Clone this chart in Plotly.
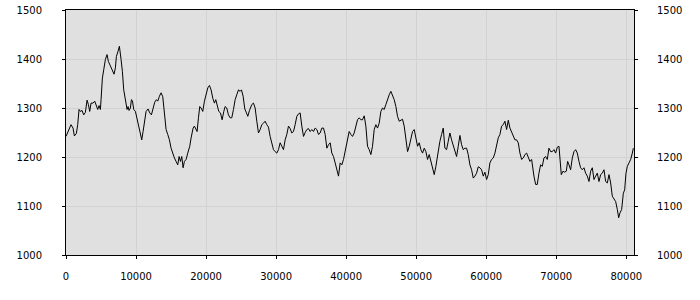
import plotly.graph_objects as go

x_vals = [
    0, 386, 719, 1005, 1195, 1481, 1672, 1862, 2052, 2290, 2529, 2767, 3005, 3195, 3386, 3576,
    3862, 4100, 4338, 4529, 4719, 4910, 5005, 5195, 5386, 5624, 5862, 6052, 6338, 6624, 6862,
    7052, 7195, 7433, 7624, 7862, 8052, 8243, 8481, 8719, 8862, 9005, 9195, 9338, 9481, 9672,
    9910, 10148, 10386, 10624, 10814, 11005, 11195, 11433, 11719, 11957, 12195, 12433, 12672, 12910,
    13100, 13338, 13576, 13814, 14052, 14290, 14529, 14767, 15005, 15243, 15481, 15719, 15957, 16148,
    16338, 16529, 16719, 16910, 17148, 17386, 17671, 17862, 18148, 18338, 18529, 18719, 18910, 19100,
    19290, 19529, 19767, 20005, 20243, 20481, 20719, 20957, 21195, 21386, 21576, 21814, 22052, 22290,
    22529, 22719, 22957, 23195, 23433, 23671, 23910, 24148, 24386, 24624, 24862, 25052, 25290, 25529,
    25767, 25957, 26195, 26433,
    26529, 26767, 27005, 27243, 27481, 27719, 27957, 28195, 28433, 28671, 28910, 29148, 29386, 29624,
    29862, 30100, 30338, 30576, 30814, 31052, 31290, 31529, 31767, 32005, 32243, 32481, 32719, 32957,
    33195, 33433, 33671, 33910, 34148, 34386, 34624, 34862, 35100, 35338, 35576, 35814, 36052, 36290,
    36529, 36767, 37005, 37243, 37481, 37719, 37957, 38195, 38433, 38671, 38910, 39148, 39386, 39624,
    39862,
    39957, 40195, 40433, 40671, 40910, 41148, 41386, 41624, 41862, 42100, 42338, 42576, 42814, 43052,
    43290, 43529, 43767, 44005, 44243, 44481, 44719, 44957, 45195, 45433, 45671, 45910, 46148, 46386,
    46624, 46862, 47100, 47338, 47576, 47814, 48052, 48290, 48529, 48767, 49005, 49243, 49481, 49719,
    49957, 50195, 50433, 50671, 50910, 51148, 51386, 51624, 51862, 52100, 52338, 52576, 52814, 53052,
    53290,
    53386, 53624, 53862, 54100, 54338, 54576, 54814, 55052, 55290, 55529, 55767, 56005, 56243, 56481,
    56719, 56957, 57195, 57433, 57671, 57910, 58148, 58386, 58624, 58862, 59100, 59338, 59576, 59814,
    60052, 60290, 60529, 60767, 61005, 61243, 61481, 61719, 61957, 62195, 62433, 62671, 62910, 63148,
    63386, 63624, 63862, 64100, 64338, 64576, 64814, 65052, 65290, 65529, 65767, 66005, 66243, 66481,
    66719,
    66814, 67052, 67290, 67529, 67767, 68005, 68243, 68481, 68719, 68957, 69195, 69433, 69671, 69910,
    70148, 70386, 70529, 70719, 70957, 71195, 71433, 71624, 71814, 72052, 72290, 72529, 72767, 73005,
    73243, 73481, 73719, 73957, 74195, 74433, 74671, 74910, 75148, 75386, 75624, 75862, 76100, 76338,
    76576, 76814, 77052, 77290, 77529, 77767, 78005, 78243, 78481, 78719, 78910, 79100, 79338, 79576,
    79767, 79957, 80148, 80386, 80624, 80862, 81005,
]

y_vals = [
    1242, 1256, 1266, 1259, 1243, 1248, 1266, 1297, 1293, 1295, 1286, 1291, 1316, 1307, 1293, 1310,
    1310, 1314, 1303, 1297, 1305, 1297, 1317, 1361, 1378, 1399, 1409, 1395, 1386, 1378, 1369,
    1382, 1405, 1416, 1426, 1399, 1375, 1337, 1314, 1297, 1303, 1295, 1300, 1317, 1315, 1297,
    1293, 1276, 1266, 1242, 1235, 1252, 1273, 1293, 1298, 1290, 1286, 1297, 1312, 1317,
    1314, 1324, 1331, 1323, 1283, 1256, 1246, 1235, 1218, 1205, 1198, 1191, 1184, 1201,
    1191, 1201, 1178, 1191, 1195, 1208, 1222, 1239, 1259, 1263, 1256, 1252, 1280, 1303,
    1300, 1293, 1314, 1327, 1341, 1346, 1337, 1320, 1310, 1317, 1307, 1293, 1290, 1276,
    1293, 1303, 1300, 1286, 1280, 1280, 1297, 1317, 1327, 1337, 1334, 1337, 1324, 1298,
    1290, 1283, 1295, 1303,
    1307, 1310, 1300, 1273, 1249, 1256, 1266, 1269, 1273, 1266, 1261, 1242, 1225, 1215,
    1211, 1208, 1215, 1229, 1222, 1215, 1235, 1246, 1263, 1258, 1249, 1252, 1266, 1283,
    1288, 1290, 1263, 1242, 1250, 1256, 1258, 1252, 1256, 1252, 1259, 1256, 1246, 1249,
    1259, 1259, 1246, 1218, 1225, 1229, 1208, 1201, 1188, 1174, 1161, 1188, 1184, 1195,
    1211,
    1222, 1235, 1252, 1246, 1242, 1249, 1263, 1276, 1280, 1276, 1276, 1284, 1263, 1222,
    1215, 1205, 1222, 1256, 1266, 1259, 1269, 1293, 1300, 1297, 1307, 1320, 1327, 1334,
    1327, 1317, 1303, 1283, 1273, 1276, 1277, 1263, 1235, 1211, 1222, 1235, 1252, 1256,
    1242, 1222, 1229, 1215, 1208, 1218, 1211, 1195, 1205, 1191, 1178, 1164, 1181, 1205,
    1222,
    1232, 1246, 1259, 1218, 1215, 1232, 1249, 1235, 1225, 1215, 1201, 1222, 1244, 1225,
    1215, 1218, 1218, 1205, 1184, 1174, 1157, 1161, 1167, 1180, 1178, 1174, 1161, 1169,
    1154, 1164, 1188, 1195, 1198, 1208, 1222, 1239, 1246, 1263, 1266, 1273, 1256, 1275,
    1259, 1252, 1242, 1235, 1235, 1229, 1208, 1195, 1198, 1205, 1208, 1198, 1191, 1195,
    1164,
    1161, 1144, 1144, 1167, 1184, 1181, 1198, 1201, 1195, 1218, 1211, 1211, 1215, 1208,
    1220, 1222, 1195, 1164, 1171, 1169, 1171, 1191, 1184, 1174, 1198, 1211, 1215, 1208,
    1191, 1178, 1174, 1178, 1167, 1161, 1150, 1171, 1178, 1154, 1161, 1167, 1150, 1164,
    1167, 1174, 1150, 1147, 1164, 1147, 1120, 1113, 1109, 1093, 1076, 1086, 1093, 1126,
    1133, 1167, 1181, 1188, 1195, 1208, 1218,
]

x_ticks = [0, 10000, 20000, 30000, 40000, 50000, 60000, 70000, 80000]
y_ticks = [1000, 1100, 1200, 1300, 1400, 1500]

FONT = dict(family="DejaVu Sans", size=10, color="#000000")
GRID = "#d2d2d2"

fig = go.Figure()
fig.add_trace(go.Scatter(x=x_vals, y=y_vals, mode="lines",
                         line=dict(color="#000000", width=1), hoverinfo="skip"))
fig.add_trace(go.Scatter(x=x_vals, y=y_vals, mode="lines", yaxis="y2",
                         line=dict(color="rgba(0,0,0,0)", width=0), hoverinfo="skip"))

fig.update_layout(
    width=700, height=300,
    margin=dict(l=66, r=66, t=10, b=45, autoexpand=False),
    paper_bgcolor="#ffffff", plot_bgcolor="#e0e0e0",
    showlegend=False,
    xaxis=dict(range=[0, 81100], tickvals=x_ticks, ticktext=[str(v) for v in x_ticks],
               showgrid=True, gridcolor=GRID, gridwidth=1, zeroline=False,
               showline=True, linecolor="#000000", linewidth=1, mirror=True,
               ticks="outside", ticklen=3, tickcolor="#000000", tickfont=FONT,
               ticklabelstandoff=9, automargin=False),
    yaxis=dict(range=[1000, 1500], tickvals=y_ticks, ticktext=[str(v) for v in y_ticks],
               showgrid=True, gridcolor=GRID, gridwidth=1, zeroline=False,
               showline=True, linecolor="#000000", linewidth=1,
               ticks="outside", ticklen=3, tickcolor="#000000", tickfont=FONT,
               ticklabelstandoff=18, automargin=False),
    yaxis2=dict(range=[1000, 1500], tickvals=y_ticks, ticktext=[str(v) for v in y_ticks],
                overlaying="y", side="right", showgrid=False, zeroline=False,
                showline=True, linecolor="#000000", linewidth=1,
                ticks="outside", ticklen=3, tickcolor="#000000", tickfont=FONT,
                ticklabelstandoff=17, automargin=False),
)

fig.write_html("out.html")
